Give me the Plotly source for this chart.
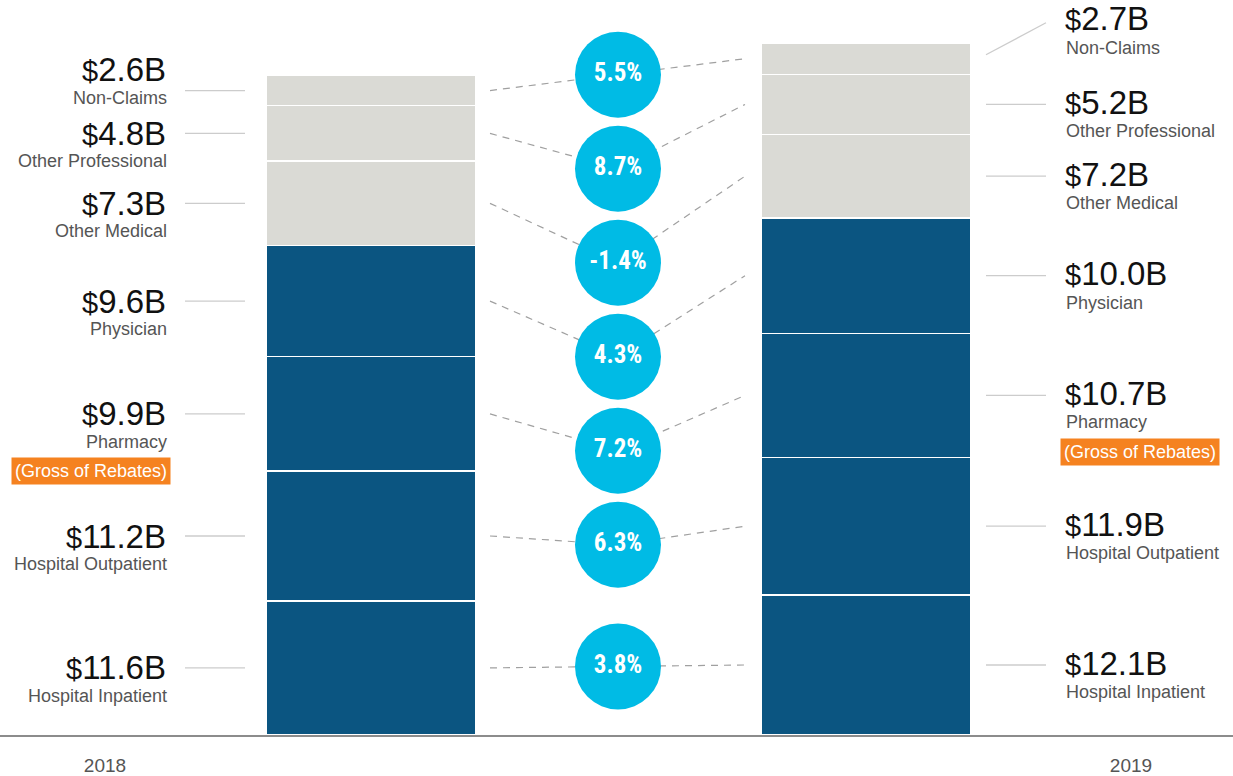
import plotly.graph_objects as go

# ---- data -------------------------------------------------------------
categories = ["Hospital Inpatient", "Hospital Outpatient", "Pharmacy", "Physician",
              "Other Medical", "Other Professional", "Non-Claims"]
spend_2018 = [11.6, 11.2, 9.9, 9.6, 7.3, 4.8, 2.6]     # $B
spend_2019 = [12.1, 11.9, 10.7, 10.0, 7.2, 5.2, 2.7]   # $B
growth_pct = [3.8, 6.3, 7.2, 4.3, -1.4, 8.7, 5.5]
year_labels = ["2018", "2019"]
rebate_note = "(Gross of Rebates)"
noted_category = "Pharmacy"

# ---- styling / layout -------------------------------------------------
W, H = 1233, 776
BASE_PX = 735                 # pixel row of the baseline
PX_PER_B = 11.57              # vertical scale, pixels per $1B
YMAX = BASE_PX / PX_PER_B
X_BAR = [371, 866]
BAR_W = 210
X_CIRCLE = 618
X_YEAR = [105, 1131]
CIRCLE_GAP_PX = 94

DARK_BLUE = "#0b5581"
LIGHT_GREY = "#dadad5"
CYAN = "#00bbe5"
ORANGE = "#f58220"
colors = [DARK_BLUE] * 4 + [LIGHT_GREY] * 3
FONT = "Liberation Sans, Arial, Helvetica, sans-serif"
CIRCLE_FONT = "Liberation Sans Narrow, Arial Narrow, Roboto Condensed, Liberation Sans, Arial, sans-serif"

# extra upward nudge (px) for the smallest top segment labels
label_lift = {"Non-Claims": (21, 38)}


def centers(values):
    out, run = [], 0.0
    for v in values:
        out.append(run + v / 2)
        run += v
    return out


def money(v):
    return f"<span style='font-size:29px'>$</span>{v:.1f}B"


c18 = centers(spend_2018)
c19 = centers(spend_2019)

# growth bubbles: midway between the two segments, pushed apart so they don't overlap
gap = CIRCLE_GAP_PX / PX_PER_B
circle_y = [None] * len(categories)
prev = None
for i in reversed(range(len(categories))):
    y = (c18[i] + c19[i]) / 2
    if prev is not None:
        y = min(y, prev - gap)
    circle_y[i] = y
    prev = y

fig = go.Figure()

# stacked bars
for i, cat in enumerate(categories):
    fig.add_trace(go.Bar(
        x=X_BAR, y=[spend_2018[i], spend_2019[i]], width=BAR_W,
        marker=dict(color=colors[i], line=dict(color="white", width=1.5)),
        name=cat, showlegend=False, hoverinfo="skip",
    ))

# dashed connectors from each segment to its growth bubble
for i in range(len(categories)):
    fig.add_trace(go.Scatter(
        x=[490, X_CIRCLE, 745], y=[c18[i], circle_y[i], c19[i]],
        mode="lines", line=dict(color="#a0a0a0", width=1.2, dash="7px,6px"),
        showlegend=False, hoverinfo="skip",
    ))

# growth bubbles
fig.add_trace(go.Scatter(
    x=[X_CIRCLE] * len(categories), y=circle_y, mode="markers+text",
    marker=dict(size=86, color=CYAN, line=dict(width=0)),
    text=[f"{g:.1f}%" for g in growth_pct], textposition="middle center",
    textfont=dict(family=CIRCLE_FONT, size=25, color="white", weight="bold"),
    showlegend=False, hoverinfo="skip", cliponaxis=False,
))

shapes = []
annotations = []
for i, cat in enumerate(categories):
    lift_l, lift_r = label_lift.get(cat, (0, 0))
    # left (2018) labels
    shapes.append(dict(type="line", xref="x", yref="y", x0=185, x1=245,
                       y0=c18[i], y1=c18[i], line=dict(color="#cccccc", width=1.3)))
    annotations.append(dict(x=168, y=c18[i], yshift=lift_l, xanchor="right", yanchor="middle",
                            text=money(spend_2018[i]), showarrow=False,
                            font=dict(family=FONT, size=33, color="#111111")))
    annotations.append(dict(x=169, y=c18[i], yshift=lift_l - 28, xanchor="right", yanchor="middle",
                            text=cat, showarrow=False,
                            font=dict(family=FONT, size=18, color="#555555")))
    # right (2019) labels
    y_val_shift = lift_r + 2
    if lift_r:
        shapes.append(dict(type="line", xref="x", yref="y", x0=986, x1=1046,
                           y0=c19[i] + 4 / PX_PER_B, y1=c19[i] + (y_val_shift - 4) / PX_PER_B,
                           line=dict(color="#cccccc", width=1.3)))
    else:
        shapes.append(dict(type="line", xref="x", yref="y", x0=986, x1=1046,
                           y0=c19[i], y1=c19[i], line=dict(color="#cccccc", width=1.3)))
    annotations.append(dict(x=1063, y=c19[i], yshift=y_val_shift, xanchor="left", yanchor="middle",
                            text=money(spend_2019[i]), showarrow=False,
                            font=dict(family=FONT, size=33, color="#111111")))
    annotations.append(dict(x=1064, y=c19[i], yshift=y_val_shift - 29, xanchor="left", yanchor="middle",
                            text=cat, showarrow=False,
                            font=dict(family=FONT, size=18, color="#555555")))
    if cat == noted_category:
        annotations.append(dict(x=171, y=c18[i], yshift=lift_l - 57, xanchor="right", yanchor="middle",
                                text=rebate_note, showarrow=False, bgcolor=ORANGE, borderpad=3,
                                font=dict(family=FONT, size=18, color="white")))
        annotations.append(dict(x=1060, y=c19[i], yshift=y_val_shift - 59, xanchor="left", yanchor="middle",
                                text=rebate_note, showarrow=False, bgcolor=ORANGE, borderpad=3,
                                font=dict(family=FONT, size=18, color="white")))

fig.update_layout(
    width=W, height=H, barmode="stack",
    margin=dict(l=0, r=0, t=0, b=H - BASE_PX, autoexpand=False),
    paper_bgcolor="white", plot_bgcolor="white",
    shapes=shapes, annotations=annotations,
    xaxis=dict(range=[0, W], showgrid=False, zeroline=False, automargin=False,
               showline=True, linecolor="#8c8c8c", linewidth=1.5,
               tickmode="array", tickvals=X_YEAR, ticktext=year_labels,
               ticks="outside", ticklen=12, tickcolor="rgba(0,0,0,0)",
               tickfont=dict(family=FONT, size=19, color="#555555"), fixedrange=True),
    yaxis=dict(range=[0, YMAX], showgrid=False, zeroline=False, showticklabels=False,
               automargin=False, fixedrange=True),
)

fig.write_html("out.html", config={"displayModeBar": False})
